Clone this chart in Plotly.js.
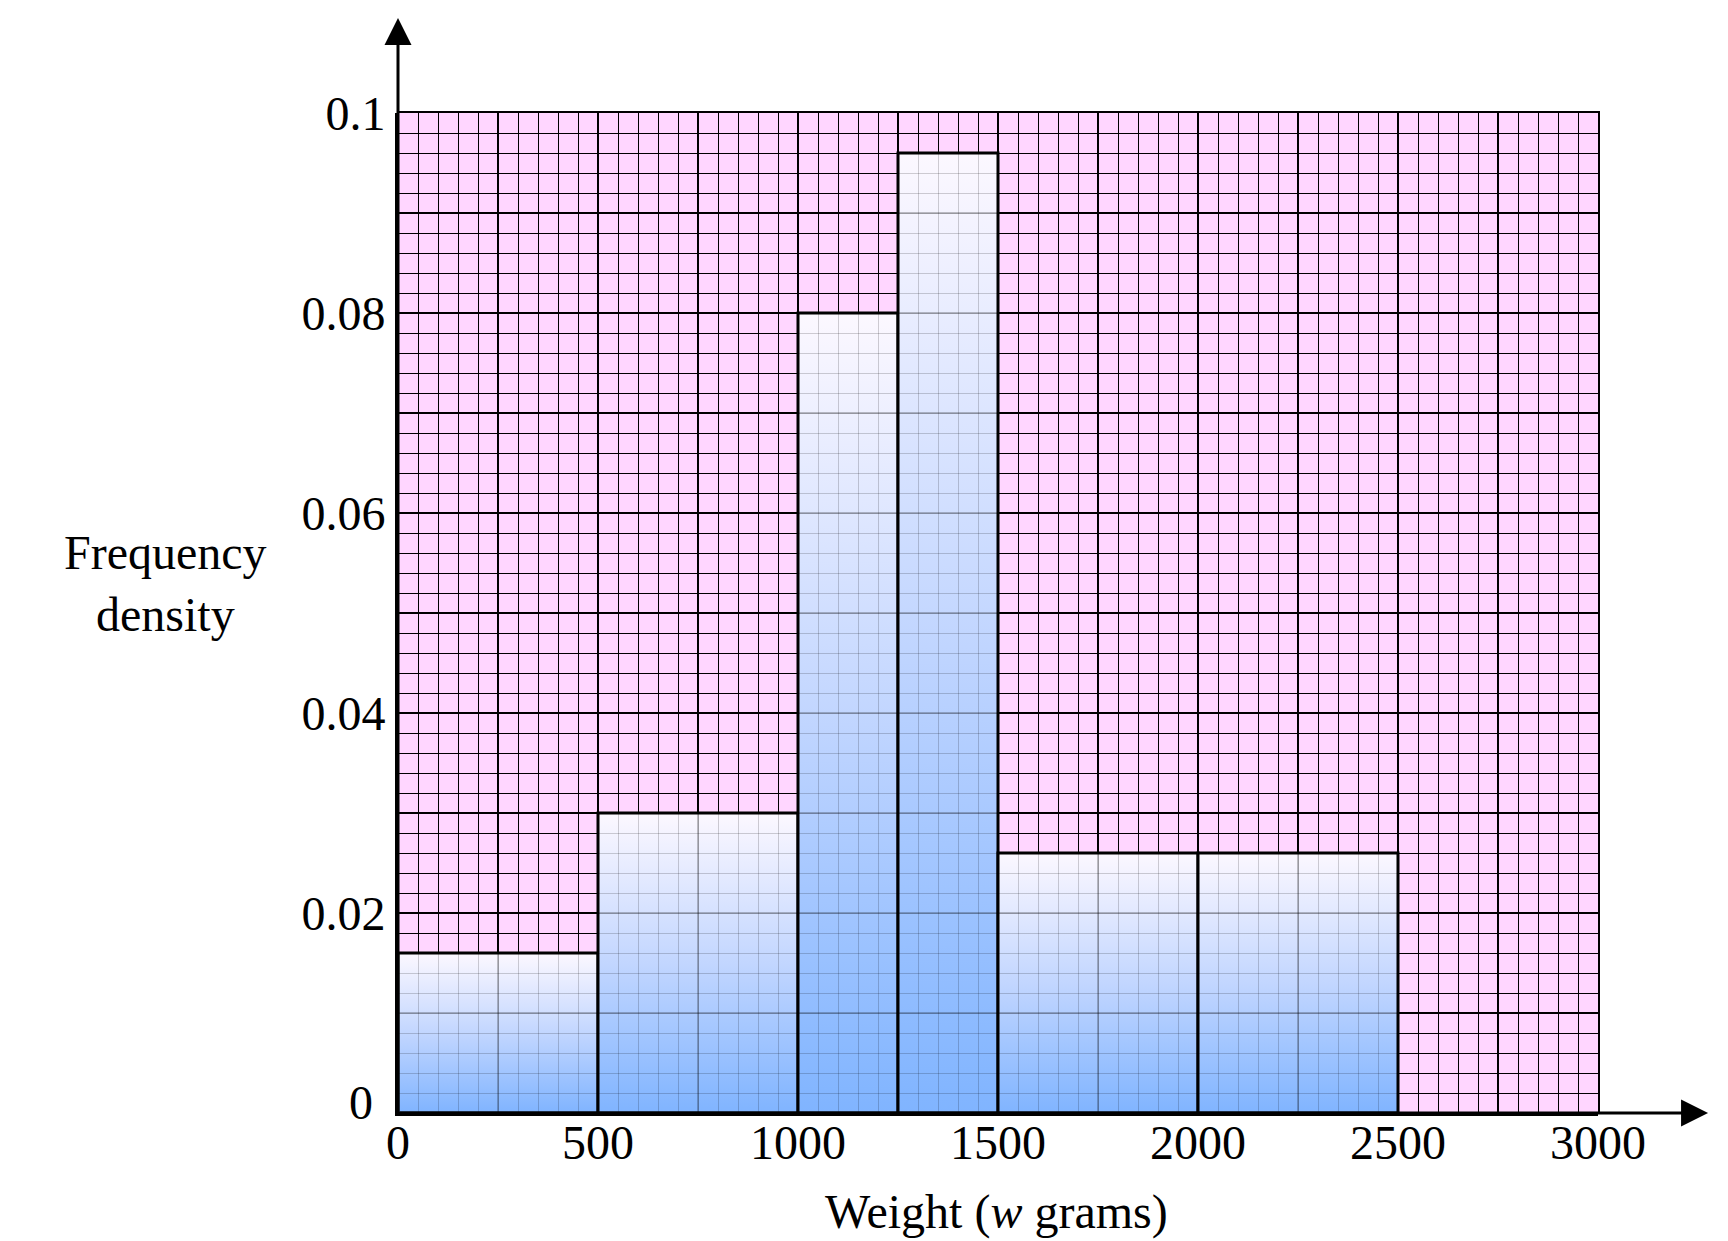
<!DOCTYPE html>
<html>
<head>
<meta charset="utf-8">
<script src="https://cdn.plot.ly/plotly-3.0.1.min.js"></script>
<style>
  html, body { margin: 0; padding: 0; background: #ffffff; }
  #chart { width: 1728px; height: 1241px; }
</style>
</head>
<body>
<div id="chart"></div>
<script>
// ---- data ----
const binStart = [0, 500, 1000, 1250, 1500, 2000];
const binEnd = [500, 1000, 1250, 1500, 2000, 2500];
const freqDensity = [0.016, 0.03, 0.08, 0.096, 0.026, 0.026];

const xTickVals = [0, 250, 500, 750, 1000, 1250, 1500, 1750, 2000, 2250, 2500, 2750, 3000];
const xTickText = ['0', '', '500', '', '1000', '', '1500', '', '2000', '', '2500', '', '3000'];
const yTickVals = [0, 0.01, 0.02, 0.03, 0.04, 0.05, 0.06, 0.07, 0.08, 0.09, 0.1];
const yTickText = ['0', '', '0.02', '', '0.04', '', '0.06', '', '0.08', '', '0.1'];

const xTitle = 'Weight (<i>w</i> grams)';
const yTitle = 'Frequency<br>density';

// ---- style ----
const FONT = 'Liberation Serif, Times New Roman, serif';
const PINK = '#FFD6FF';
const GRAD = [[0, '#80B4FF'], [0.5, '#C2D6FF'], [1, '#FCF8FF']];

const traces = [];
for (let i = 0; i < binStart.length; i++) {
  const a = binStart[i], b = binEnd[i], h = freqDensity[i];
  traces.push({
    type: 'scatter',
    mode: 'lines',
    x: [a, a, b, b, a],
    y: [0, h, h, 0, 0],
    fill: 'toself',
    fillgradient: { type: 'vertical', colorscale: GRAD },
    line: { color: '#000000', width: 3 },
    hoverinfo: 'skip',
    showlegend: false,
    xaxis: 'x',
    yaxis: 'y'
  });
}
// overlay subplot carrying the translucent grid drawn above the bars
traces.push({
  type: 'scatter', mode: 'markers', x: [], y: [],
  xaxis: 'x2', yaxis: 'y2', hoverinfo: 'skip', showlegend: false
});

const tickFont = { family: FONT, size: 48, color: '#000000' };
// the y-axis origin label sits slightly off the axis in the original; drawn separately
const yAxisText = yTickText.map((t, i) => (yTickVals[i] === 0 ? '' : t));

const layout = {
  width: 1728,
  height: 1241,
  margin: { l: 398, r: 130, t: 113, b: 128, pad: 0 },
  paper_bgcolor: '#ffffff',
  plot_bgcolor: 'rgba(0,0,0,0)',
  showlegend: false,
  font: { family: FONT, size: 48, color: '#000000' },
  xaxis: {
    domain: [0, 1], anchor: 'y',
    range: [0, 3000], fixedrange: true,
    tickmode: 'array', tickvals: xTickVals, ticktext: xTickText,
    tickfont: tickFont, ticks: '', ticklabelstandoff: -15,
    showgrid: true, gridcolor: '#000000', gridwidth: 2,
    minor: { tickmode: 'linear', tick0: 0, dtick: 50, showgrid: true, gridcolor: '#000000', gridwidth: 1, ticks: '' },
    showline: true, linecolor: '#000000', linewidth: 3,
    zeroline: false, automargin: false
  },
  yaxis: {
    domain: [0, 1], anchor: 'x',
    range: [0, 0.1], fixedrange: true,
    tickmode: 'array', tickvals: yTickVals, ticktext: yAxisText,
    tickfont: tickFont, ticks: '', ticklabelstandoff: 0,
    showgrid: true, gridcolor: '#000000', gridwidth: 2,
    minor: { tickmode: 'linear', tick0: 0, dtick: 0.002, showgrid: true, gridcolor: '#000000', gridwidth: 1, ticks: '' },
    showline: true, linecolor: '#000000', linewidth: 3,
    zeroline: false, automargin: false
  },
  xaxis2: {
    domain: [0, 1], anchor: 'y2', side: 'top',
    range: [0, 3000], fixedrange: true,
    tickmode: 'array', tickvals: xTickVals, showticklabels: false, ticks: '',
    showgrid: true, gridcolor: 'rgba(0,0,0,0.24)', gridwidth: 2,
    minor: { tickmode: 'linear', tick0: 0, dtick: 50, showgrid: true, gridcolor: 'rgba(0,0,0,0.18)', gridwidth: 1, ticks: '' },
    showline: true, linecolor: '#000000', linewidth: 2,
    zeroline: false, automargin: false
  },
  yaxis2: {
    domain: [0, 1], anchor: 'x2', side: 'right',
    range: [0, 0.1], fixedrange: true,
    tickmode: 'array', tickvals: yTickVals, showticklabels: false, ticks: '',
    showgrid: true, gridcolor: 'rgba(0,0,0,0.24)', gridwidth: 2,
    minor: { tickmode: 'linear', tick0: 0, dtick: 0.002, showgrid: true, gridcolor: 'rgba(0,0,0,0.18)', gridwidth: 1, ticks: '' },
    showline: true, linecolor: '#000000', linewidth: 2,
    zeroline: false, automargin: false
  },
  shapes: [{
    type: 'rect', xref: 'x', yref: 'y', layer: 'below',
    x0: 0, x1: 3000, y0: 0, y1: 0.1,
    fillcolor: PINK, line: { width: 0 }
  }],
  annotations: [
    { // y axis arrow
      xref: 'paper', yref: 'paper', x: 0, y: 1.095,
      ax: 0, ay: 1095, axref: 'pixel', ayref: 'pixel',
      text: '', showarrow: true, arrowhead: 2, arrowsize: 1.8, arrowwidth: 3,
      arrowcolor: '#000000', standoff: 0, startstandoff: 0
    },
    { // x axis arrow
      xref: 'paper', yref: 'paper', x: 1.0917, y: 0,
      ax: -1310, ay: 0, axref: 'pixel', ayref: 'pixel',
      text: '', showarrow: true, arrowhead: 2, arrowsize: 1.8, arrowwidth: 3,
      arrowcolor: '#000000', standoff: 0, startstandoff: 0
    },
    { // y-axis origin label
      xref: 'paper', yref: 'paper', x: -0.031, y: 0.011,
      xanchor: 'center', yanchor: 'middle',
      text: yTickText[0], showarrow: false,
      font: tickFont
    },
    { // y title
      xref: 'paper', yref: 'paper', x: -0.194, y: 0.53,
      xanchor: 'center', yanchor: 'middle', align: 'center',
      text: yTitle, showarrow: false,
      font: { family: FONT, size: 48, color: '#000000' }
    },
    { // x title
      xref: 'paper', yref: 'paper', x: 0.499, y: -0.099,
      xanchor: 'center', yanchor: 'middle',
      text: xTitle, showarrow: false,
      font: { family: FONT, size: 48, color: '#000000' }
    }
  ]
};

Plotly.newPlot('chart', traces, layout, { staticPlot: true, displayModeBar: false });
</script>
</body>
</html>
